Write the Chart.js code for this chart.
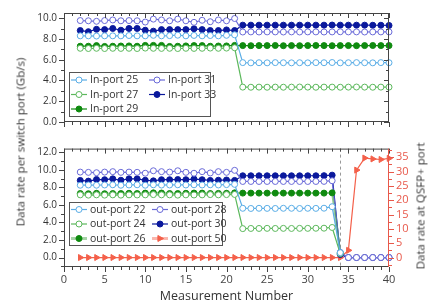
<!DOCTYPE html>
<html>
<head>
<meta charset="utf-8">
<script src="https://cdn.jsdelivr.net/npm/chart.js@4.4.1/dist/chart.umd.min.js"></script>
<style>
  body { margin: 0; background: #fff; }
  #wrap { position: relative; width: 432px; height: 305px; overflow: hidden; }
  canvas { position: absolute; left: 0; }
  .ytitle {
    position: absolute; white-space: nowrap; color: #333;
    font: 11.5px 'Open Sans', sans-serif;
    transform: translate(-50%, -50%) rotate(-90deg);
  }
</style>
</head>
<body>
<div id="wrap">
  <canvas id="chartTop" width="432" height="135" style="top:0"></canvas>
  <canvas id="chartBottom" width="432" height="170" style="top:135px"></canvas>
  <div class="ytitle" style="left:20px; top:142px">Data rate per switch port (Gb/s)</div>
  <div class="ytitle" style="left:420px; top:206px">Data rate at QSFP+ port</div>
</div>
<script>
// measurement number 2..40
const measurement = [2, 3, 4, 5, 6, 7, 8, 9, 10, 11, 12, 13, 14, 15, 16, 17, 18, 19, 20, 21,
  22, 23, 24, 25, 26, 27, 28, 29, 30, 31, 32, 33, 34, 35, 36, 37, 38, 39, 40];

// top panel: in-ports (Gb/s)
const inPort25 = [8.30, 8.30, 8.28, 8.30, 8.30, 8.30, 8.33, 8.30, 8.30, 8.35, 8.30, 8.32, 8.36, 8.30, 8.34, 8.30, 8.33, 8.30, 8.35, 8.40,
  5.72, 5.70, 5.71, 5.70, 5.72, 5.71, 5.70, 5.71, 5.70, 5.72, 5.71, 5.73, 5.70, 5.71, 5.72, 5.71, 5.70, 5.72, 5.71];
const inPort27 = [7.10, 7.08, 7.10, 7.08, 7.10, 7.09, 7.10, 7.08, 7.12, 7.10, 7.09, 7.10, 7.08, 7.10, 7.09, 7.10, 7.12, 7.10, 7.12, 7.15,
  3.36, 3.35, 3.36, 3.35, 3.36, 3.35, 3.36, 3.37, 3.36, 3.35, 3.36, 3.36, 3.35, 3.36, 3.37, 3.36, 3.35, 3.36, 3.36];
const inPort29 = [7.30, 7.30, 7.36, 7.28, 7.30, 7.32, 7.33, 7.30, 7.38, 7.38, 7.38, 7.28, 7.30, 7.33, 7.36, 7.36, 7.30, 7.32, 7.33, 7.38,
  7.36, 7.35, 7.36, 7.36, 7.37, 7.35, 7.36, 7.35, 7.36, 7.37, 7.36, 7.35, 7.36, 7.36, 7.35, 7.36, 7.37, 7.36, 7.36];
const inPort31 = [9.77, 9.75, 9.70, 9.77, 9.83, 9.75, 9.77, 9.75, 9.63, 9.91, 9.83, 9.75, 9.91, 9.75, 9.60, 9.80, 9.66, 9.83, 9.75, 9.97,
  8.67, 8.68, 8.67, 8.68, 8.68, 8.67, 8.68, 8.67, 8.68, 8.68, 8.67, 8.68, 8.69, 8.68, 8.68, 8.67, 8.68, 8.68, 8.68];
const inPort33 = [8.81, 8.70, 8.93, 8.90, 9.01, 8.84, 9.01, 9.01, 8.84, 8.75, 8.90, 8.90, 8.90, 8.90, 8.98, 8.90, 8.81, 8.81, 8.87, 8.81,
  9.33, 9.33, 9.33, 9.33, 9.33, 9.33, 9.33, 9.33, 9.33, 9.33, 9.33, 9.34, 9.33, 9.33, 9.33, 9.33, 9.32, 9.32, 9.30];

// bottom panel: out-ports (Gb/s), out-port 50 on the right axis
const outPort22 = [8.25, 8.28, 8.25, 8.28, 8.30, 8.25, 8.28, 8.30, 8.25, 8.30, 8.27, 8.28, 8.30, 8.28, 8.30, 8.28, 8.30, 8.28, 8.32, 8.35,
  5.62, 5.60, 5.62, 5.61, 5.60, 5.62, 5.62, 5.60, 5.62, 5.61, 5.63, 5.80, 0.55, null, null, null, null, null, null];
const outPort24 = [7.15, 7.12, 7.15, 7.12, 7.15, 7.12, 7.15, 7.14, 7.15, 7.18, 7.15, 7.15, 7.12, 7.15, 7.14, 7.15, 7.18, 7.15, 7.18, 7.20,
  3.30, 3.32, 3.32, 3.33, 3.32, 3.33, 3.32, 3.33, 3.33, 3.34, 3.35, 3.43, 0.45, null, null, null, null, null, null];
const outPort26 = [7.30, 7.28, 7.33, 7.28, 7.30, 7.30, 7.33, 7.30, 7.35, 7.38, 7.36, 7.30, 7.30, 7.33, 7.36, 7.35, 7.30, 7.32, 7.33, 7.38,
  7.35, 7.35, 7.35, 7.35, 7.35, 7.35, 7.35, 7.35, 7.35, 7.35, 7.35, 7.38, 0.50, null, null, null, null, null, null];
const outPort28 = [9.75, 9.72, 9.68, 9.75, 9.80, 9.72, 9.75, 9.72, 9.62, 9.90, 9.80, 9.75, 9.90, 9.72, 9.62, 9.80, 9.65, 9.80, 9.72, 9.95,
  8.68, 8.68, 8.68, 8.68, 8.68, 8.68, 8.68, 8.68, 8.68, 8.68, 8.69, 8.76, 0.60, 0, 0, 0, 0, 0, 0];
const outPort30 = [8.80, 8.72, 8.90, 8.88, 8.98, 8.82, 8.98, 8.98, 8.82, 8.75, 8.88, 8.88, 8.90, 8.88, 8.95, 8.88, 8.80, 8.82, 8.85, 8.80,
  9.33, 9.33, 9.33, 9.33, 9.33, 9.33, 9.33, 9.33, 9.33, 9.33, 9.34, 9.40, 0.35, 0, 0, 0, 0, 0, 0];
const outPort50 = [0, 0, 0, 0, 0, 0, 0, 0, 0, 0, 0, 0, 0, 0, 0, 0, 0, 0, 0, 0,
  0, 0, 0, 0, 0, 0, 0, 0, 0, 0, 0, 0, 0, 2.5, 30.5, 34.7, 34.4, 34.2, 34.6];

const switchMeasurement = 34; // dashed line

const LIGHTBLUE = '#5aade6', LIGHTGREEN = '#5cb85c', GREEN = '#0f8a0f',
      PURPLE = '#6a6ad8', NAVY = '#0a189c', RED = '#f4604a', AXISRED = '#e8584a';

Chart.defaults.font.family = "'Open Sans', sans-serif";
Chart.defaults.font.size = 10;
Chart.defaults.color = '#333';

function series(label, values, color, filled, extra) {
  return Object.assign({
    label: label,
    data: measurement.map((m, i) => ({ x: m, y: values[i] })),
    borderColor: color,
    backgroundColor: color,
    pointBackgroundColor: filled ? color : '#fff',
    pointBorderColor: color,
    pointStyle: 'circle',
    pointRadius: 3,
    pointBorderWidth: 1,
    borderWidth: 1.2,
    clip: false
  }, extra || {});
}

// draw small marker for the boxed legend
function marker(ctx, ds, x, y) {
  ctx.fillStyle = ds.pointBackgroundColor;
  ctx.strokeStyle = ds.pointBorderColor;
  ctx.lineWidth = 1;
  ctx.beginPath();
  if (ds.pointStyle === 'triangle') {
    const r = ds.pointRadius;
    ctx.moveTo(x + r, y);
    ctx.lineTo(x - r * 0.6, y - r * 0.85);
    ctx.lineTo(x - r * 0.6, y + r * 0.85);
    ctx.closePath();
  } else {
    ctx.arc(x, y, ds.pointRadius, 0, Math.PI * 2);
  }
  ctx.fill();
  ctx.stroke();
}

const framePlugin = {
  id: 'frame',
  beforeDatasetsDraw(chart, args, o) {
    if (o.dashX == null) return;
    const { ctx, chartArea: a, scales } = chart;
    const px = Math.round(scales.x.getPixelForValue(o.dashX)) + 0.5;
    ctx.save();
    ctx.strokeStyle = '#999';
    ctx.lineWidth = 1;
    ctx.setLineDash([3, 3]);
    ctx.beginPath();
    ctx.moveTo(px, a.top);
    ctx.lineTo(px, a.bottom);
    ctx.stroke();
    ctx.restore();
  },
  afterDatasetsDraw(chart, args, o) {
    const { ctx, chartArea: a, scales } = chart;
    ctx.save();
    ctx.lineWidth = 1;
    ctx.strokeStyle = '#444';
    ctx.strokeRect(a.left + 0.5, a.top + 0.5, a.right - a.left - 1, a.bottom - a.top - 1);
    const line = (x1, y1, x2, y2) => { ctx.beginPath(); ctx.moveTo(x1, y1); ctx.lineTo(x2, y2); ctx.stroke(); };
    const isMajor = (v, step) => Math.abs(v / step - Math.round(v / step)) < 1e-6;

    const xs = scales.x;
    for (let v = Math.ceil(xs.min / o.xMinor) * o.xMinor; v <= xs.max + 1e-9; v += o.xMinor) {
      const px = Math.round(xs.getPixelForValue(v)) + 0.5;
      const len = isMajor(v, o.xMajor) ? 5 : 3;
      line(px, a.bottom, px, a.bottom + len);
      line(px, a.top, px, a.top + len);
    }
    const ys = scales.y;
    for (let v = Math.ceil(ys.min / o.yMinor) * o.yMinor; v <= ys.max + 1e-9; v += o.yMinor) {
      const py = Math.round(ys.getPixelForValue(v)) + 0.5;
      const len = isMajor(v, o.yMajor) ? 5 : 3;
      line(a.left, py, a.left - len, py);
      if (!scales.y1) line(a.right, py, a.right - len, py);
    }
    const y1 = scales.y1;
    if (y1) {
      ctx.strokeStyle = AXISRED;
      line(a.right - 0.5, a.top, a.right - 0.5, a.bottom);
      for (let v = Math.ceil(y1.min / o.y1Minor) * o.y1Minor; v <= y1.max + 1e-9; v += o.y1Minor) {
        const py = Math.round(y1.getPixelForValue(v)) + 0.5;
        const len = isMajor(v, o.y1Major) ? 5 : 3;
        line(a.right, py, a.right + len, py);
      }
    }
    ctx.restore();
  }
};

const boxLegend = {
  id: 'boxLegend',
  afterDatasetsDraw(chart, args, o) {
    const { ctx, chartArea: a } = chart;
    const x0 = a.left + o.left, y0 = a.bottom - o.bottom - o.height;
    ctx.save();
    ctx.fillStyle = '#fff';
    ctx.fillRect(x0, y0, o.width, o.height);
    ctx.strokeStyle = '#555';
    ctx.lineWidth = 1;
    ctx.strokeRect(x0 + 0.5, y0 + 0.5, o.width, o.height);
    ctx.font = "10.5px 'Open Sans', sans-serif";
    ctx.textBaseline = 'middle';
    chart.data.datasets.forEach((ds, i) => {
      const col = Math.floor(i / 3), row = i % 3;
      const lx = x0 + 2 + col * o.colWidth;
      const ly = y0 + o.rowStart + row * o.rowGap;
      ctx.strokeStyle = ds.legendLine || ds.borderColor;
      ctx.lineWidth = ds.legendWidth || 1.2;
      ctx.beginPath();
      ctx.moveTo(lx, ly);
      ctx.lineTo(lx + 16, ly);
      ctx.stroke();
      marker(ctx, ds, lx + 8, ly);
      ctx.fillStyle = '#333';
      ctx.fillText(ds.label, lx + 19, ly + 0.5);
    });
    ctx.restore();
  }
};

const tickFmt = v => v.toFixed(1);

new Chart('chartTop', {
  type: 'line',
  data: {
    datasets: [
      series('In-port 25', inPort25, LIGHTBLUE, false),
      series('In-port 27', inPort27, LIGHTGREEN, false),
      series('In-port 29', inPort29, GREEN, true),
      series('In-port 31', inPort31, PURPLE, false),
      series('In-port 33', inPort33, NAVY, true)
    ]
  },
  options: {
    responsive: false,
    animation: false,
    layout: { padding: { top: 7, right: 43, left: 0, bottom: 0 } },
    plugins: {
      legend: { display: false },
      tooltip: { enabled: false },
      frame: { xMinor: 1, xMajor: 5, yMinor: 1, yMajor: 2 },
      boxLegend: { left: 5, bottom: 6, width: 141, height: 44, colWidth: 78, rowStart: 8, rowGap: 14.5 }
    },
    scales: {
      x: {
        type: 'linear', min: 0, max: 40,
        ticks: { display: false, stepSize: 5 },
        grid: { display: false, drawTicks: false },
        border: { display: false },
        afterFit(s) { s.height = 7; }
      },
      y: {
        min: 0, max: 10.5,
        ticks: { stepSize: 2, padding: 7, callback: tickFmt, includeBounds: false },
        grid: { display: false, drawTicks: false },
        border: { display: false },
        afterFit(s) { s.width = 64; }
      }
    }
  },
  plugins: [framePlugin, boxLegend]
});

new Chart('chartBottom', {
  type: 'line',
  data: {
    datasets: [
      series('out-port 22', outPort22, LIGHTBLUE, false),
      series('out-port 24', outPort24, LIGHTGREEN, false),
      series('out-port 26', outPort26, GREEN, true, { borderColor: 'rgba(60,160,60,0.55)', borderWidth: 2, legendLine: 'rgba(60,160,60,0.45)', legendWidth: 3 }),
      series('out-port 28', outPort28, PURPLE, false),
      series('out-port 30', outPort30, NAVY, true),
      series('out-port 50', outPort50, RED, true, { yAxisID: 'y1', pointStyle: 'triangle', pointRotation: 90, pointRadius: 3.5, legendLine: 'rgba(244,96,74,0.45)', legendWidth: 3 })
    ]
  },
  options: {
    responsive: false,
    animation: false,
    layout: { padding: { top: 7, right: 0, left: 0, bottom: 0 } },
    plugins: {
      legend: { display: false },
      tooltip: { enabled: false },
      frame: { xMinor: 1, xMajor: 5, yMinor: 1, yMajor: 2, y1Minor: 2.5, y1Major: 5, dashX: switchMeasurement },
      boxLegend: { left: 5, bottom: 22, width: 153, height: 43, colWidth: 81, rowStart: 7.5, rowGap: 14.5 }
    },
    scales: {
      x: {
        type: 'linear', min: 0, max: 40,
        ticks: { stepSize: 5, padding: 6, font: { size: 11 }, color: '#444' },
        grid: { display: false, drawTicks: false },
        border: { display: false },
        title: { display: true, text: 'Measurement Number', font: { size: 12.5 }, color: '#333', padding: { top: 0, bottom: 1 } },
        afterFit(s) { s.height = 38; }
      },
      y: {
        min: -1.08, max: 12.43,
        ticks: { stepSize: 2, padding: 7, callback: tickFmt, includeBounds: false },
        grid: { display: false, drawTicks: false },
        border: { display: false },
        afterFit(s) { s.width = 64; }
      },
      y1: {
        position: 'right',
        min: -3.3, max: 38,
        ticks: { stepSize: 5, padding: 7, color: AXISRED, font: { size: 11 }, includeBounds: false },
        grid: { display: false, drawTicks: false },
        border: { display: false },
        afterFit(s) { s.width = 43; }
      }
    }
  },
  plugins: [framePlugin, boxLegend]
});
</script>
</body>
</html>
